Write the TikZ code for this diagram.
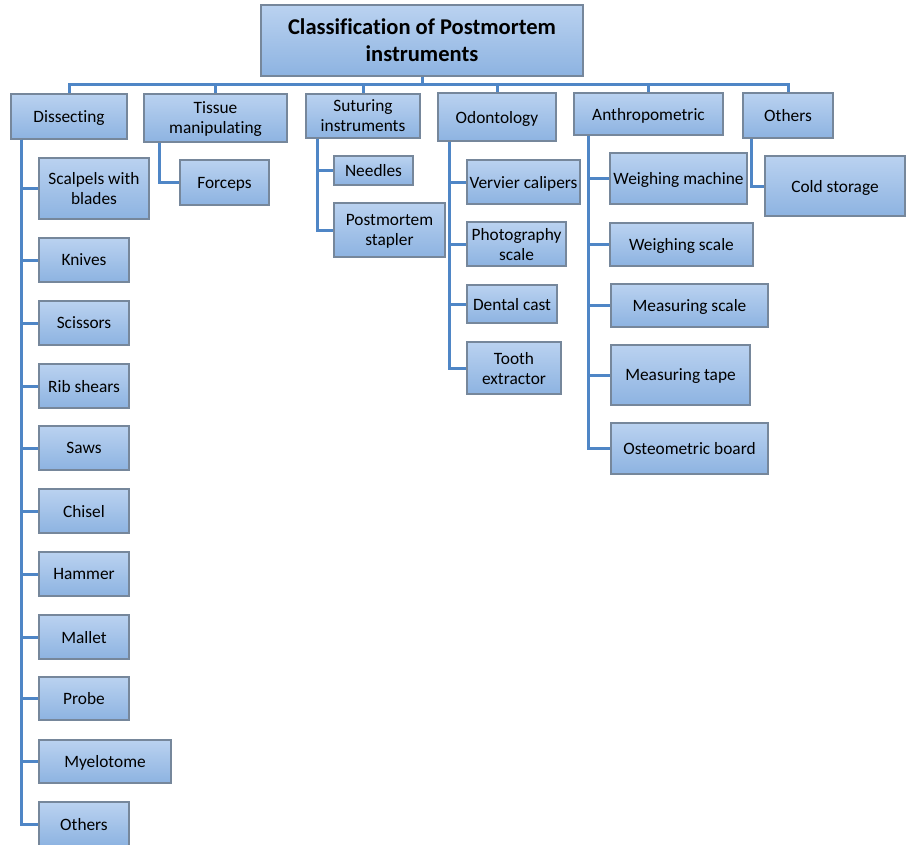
\documentclass[tikz,border=0pt]{standalone}
\usepackage{fontspec}
\setmainfont{Carlito}[Ligatures=NoCommon]

\definecolor{boxtop}{HTML}{BAD2F0}
\definecolor{boxbot}{HTML}{8DB3E1}
\definecolor{boxline}{HTML}{76879B}
\definecolor{linkblue}{HTML}{4F86C6}

\tikzset{
  box/.style={draw=boxline, line width=0.9pt, top color=boxtop, bottom color=boxbot,
    inner sep=0pt, align=center, text depth=0pt, font=\fontsize{13pt}{15pt}\selectfont},
  titlebox/.style={box, font=\fontsize{16.9pt}{20.25pt}\selectfont\bfseries},
  boxsize/.style 2 args={minimum width=#1, minimum height=#2},
  link/.style={draw=linkblue, line width=2.25pt}
}

\begin{document}
\begin{tikzpicture}[x=0.75pt, y=-0.75pt]
    \useasboundingbox (0,0) rectangle (906,844);

    % Titulo
    \node[titlebox, boxsize={241.5pt}{53.25pt}] (title) at (422,40.5) {Classification of Postmortem\\instruments};

    % Grupos principales
    \node[box, boxsize={87pt}{33.75pt}] (dis) at (69,116.5) {Dissecting};
    \node[box, boxsize={107.25pt}{36pt}] (tis) at (215.5,118) {Tissue\\manipulating};
    \node[box, boxsize={85.5pt}{33pt}] (sut) at (363,116) {Suturing\\instruments};
    \node[box, boxsize={88.5pt}{36pt}] (odo) at (497,117) {Odontology};
    \node[box, boxsize={111.75pt}{31.5pt}] (ant) at (648.5,114) {Anthropometric};
    \node[box, boxsize={67.5pt}{33.75pt}] (oth) at (788,115.5) {Others};

    % Dissecting
    \node[box, boxsize={82.5pt}{45.75pt}] (scal) at (94,188.5) {Scalpels with\\blades};
    \node[box, boxsize={67.5pt}{33pt}] (kniv) at (84,260) {Knives};
    \node[box, boxsize={67.5pt}{33pt}] (scis) at (84,323) {Scissors};
    \node[box, boxsize={67.5pt}{33pt}] (rib) at (84,386) {Rib shears};
    \node[box, boxsize={67.5pt}{33pt}] (saws) at (84,448) {Saws};
    \node[box, boxsize={67.5pt}{33pt}] (chis) at (84,511) {Chisel};
    \node[box, boxsize={67.5pt}{33pt}] (hamm) at (84,574) {Hammer};
    \node[box, boxsize={67.5pt}{33pt}] (mall) at (84,637) {Mallet};
    \node[box, boxsize={67.5pt}{32.25pt}] (prob) at (84,698.5) {Probe};
    \node[box, boxsize={99pt}{32.25pt}] (myel) at (105,761.5) {Myelotome};
    \node[box, boxsize={67.5pt}{33pt}] (doth) at (84,824) {Others};

    % Tissue manipulating
    \node[box, boxsize={66.75pt}{33.75pt}] (forc) at (224.5,182.5) {Forceps};

    % Suturing
    \node[box, boxsize={59.25pt}{21.75pt}] (need) at (373.5,170.5) {Needles};
    \node[box, boxsize={83.25pt}{40.5pt}] (stap) at (389.5,230) {Postmortem\\stapler};

    % Odontology
    \node[box, boxsize={84.75pt}{33pt}] (verv) at (523.5,182) {Vervier calipers};
    \node[box, boxsize={74.25pt}{33pt}] (phot) at (516.5,244) {Photography\\scale};
    \node[box, boxsize={67.5pt}{28.5pt}] (dent) at (512,304) {Dental cast};
    \node[box, boxsize={70.5pt}{39pt}] (toot) at (514,368) {Tooth\\extractor};

    % Anthropometric
    \node[box, boxsize={102.75pt}{38.25pt}] (wmac) at (678.5,178.5) {Weighing machine};
    \node[box, boxsize={107.25pt}{32.25pt}] (wsca) at (681.5,244.5) {Weighing scale};
    \node[box, boxsize={117.75pt}{32.25pt}] (msca) at (689.5,305.5) {Measuring scale};
    \node[box, boxsize={104.25pt}{45pt}] (mtap) at (680.5,375) {Measuring tape};
    \node[box, boxsize={117.75pt}{38.25pt}] (oste) at (689.5,448.5) {Osteometric board};

    % Others
    \node[box, boxsize={105pt}{45pt}] (cold) at (835,186) {Cold storage};

    % Conectores
    \foreach \n in {dis,tis,sut,odo,ant,oth}
      \draw[link] (title.south) -- ++(0,8) -| (\n.north);
    \foreach \c in {scal,kniv,scis,rib,saws,chis,hamm,mall,prob,myel,doth}
      \draw[link] (dis.south west) ++(11,0) |- (\c.west);
    \draw[link] (tis.south west) ++(16,0) |- (forc.west);
    \foreach \c in {need,stap}
      \draw[link] (sut.south west) ++(12,0) |- (\c.west);
    \foreach \c in {verv,phot,dent,toot}
      \draw[link] (odo.south west) ++(12,0) |- (\c.west);
    \foreach \c in {wmac,wsca,msca,mtap,oste}
      \draw[link] (ant.south west) ++(15,0) |- (\c.west);
    \draw[link] (oth.south west) ++(9,0) |- (cold.west);
\end{tikzpicture}
\end{document}
